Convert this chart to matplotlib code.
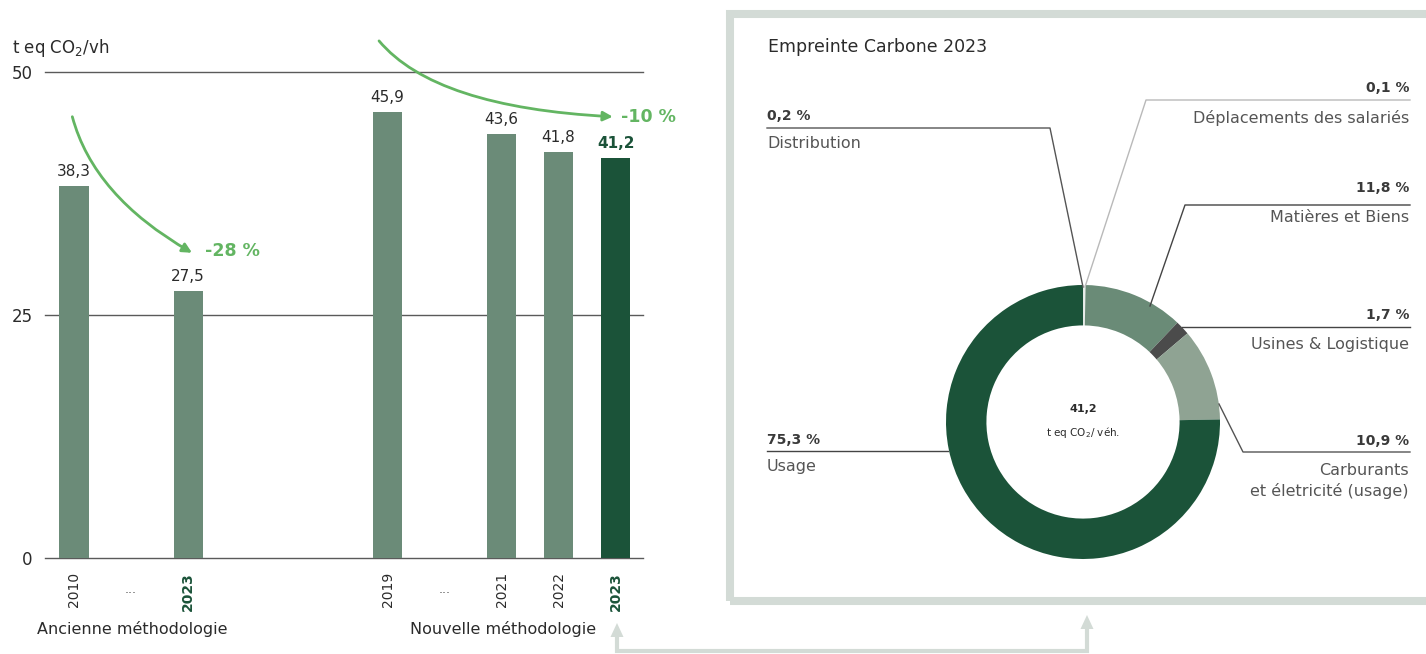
import matplotlib
matplotlib.use("Agg")
import matplotlib.pyplot as plt
from matplotlib.patches import Rectangle, Polygon

plt.rcParams['font.family'] = ['DejaVu Sans']

# --- Bar chart data: CO2 footprint per vehicle (t eq CO2) ---
years = ["2010", "2023", "2019", "2021", "2022", "2023"]
values = [38.3, 27.5, 45.9, 43.6, 41.8, 41.2]
value_labels = ["38,3", "27,5", "45,9", "43,6", "41,8", "41,2"]
highlight = [False, True, False, False, False, True]
group_labels = ["Ancienne méthodologie", "Nouvelle méthodologie"]
change_labels = ["-28 %", "-10 %"]
y_ticks = [0, 25, 50]

# --- Donut data: breakdown of the 2023 footprint ---
segments = ["Distribution", "Déplacements des salariés", "Matières et Biens",
            "Usines & Logistique", "Carburants\net életricité (usage)", "Usage"]
shares = [0.2, 0.1, 11.8, 1.7, 10.9, 75.3]
share_labels = ["0,2 %", "0,1 %", "11,8 %", "1,7 %", "10,9 %", "75,3 %"]
total_label = "41,2"

# layout
bar_x = [0, 2, 5.5, 7.5, 8.5, 9.5]
gap_x = [1, 6.5]
W, H = 1426, 654

C_BAR = "#6b8b78"
C_DARK = "#1b5339"
C_ARROW = "#63b562"
C_FRAME = "#d3dbd6"
C_GRID = "#5a5a5a"
C_TEXT = "#2b2b2b"
C_SOFT = "#555555"
seg_colors = ["#e4eae6", "#e4eae6", "#6a8b77", "#4b4b4b", "#8fa393", "#1b5339"]

fig = plt.figure(figsize=(W / 100, H / 100), dpi=100)

# full-figure overlay in pixel units (y measured from the bottom)
ov = fig.add_axes([0, 0, 1, 1])
ov.set_xlim(0, W)
ov.set_ylim(0, H)
ov.set_aspect("equal")
ov.axis("off")


def py(y):
    return H - y


# frame around the donut panel
ov.add_patch(Rectangle((730, py(601)), 800, 587, fill=False,
                       edgecolor=C_FRAME, lw=5.8))

# connector between the 2023 bar and the panel
ov.plot([617, 617, 1087, 1087], [py(634), py(651), py(651), py(628)],
        color=C_FRAME, lw=3, solid_joinstyle="miter", solid_capstyle="butt")
for xt, yt in [(617, 623), (1087, 615)]:
    ov.add_patch(Polygon([(xt, py(yt)), (xt - 6.5, py(yt + 14)), (xt + 6.5, py(yt + 14))],
                         closed=True, color=C_FRAME, lw=0))

# donut
cx, cy, r = 1083, py(422), 137
ov.pie(shares, colors=seg_colors, startangle=90, counterclock=False,
       radius=r, center=(cx, cy), wedgeprops=dict(width=r * 0.295, lw=0),
       frame=True)
ov.set_xlim(0, W)
ov.set_ylim(0, H)
ov.axis("off")

ov.text(cx, py(409), total_label, ha="center", va="center",
        fontsize=8, fontweight="bold", color=C_TEXT)
ov.text(cx, py(433), "t eq CO$_2$/ véh.", ha="center", va="center",
        fontsize=7.5, color=C_TEXT)

ov.text(768, py(47), "Empreinte Carbone 2023", ha="left", va="center",
        fontsize=12.5, color=C_TEXT)

# leader lines
leaders = [
    ([767, 1050, 1083], [128, 128, 287], C_SOFT),
    ([1410, 1146, 1085], [100, 100, 287], "#b9b9b9"),
    ([1410, 1185, 1150], [205, 205, 306], "#444444"),
    ([1410, 1182], [327, 327], "#444444"),
    ([1410, 1243, 1219], [452, 452, 404], C_SOFT),
    ([767, 948], [451, 451], "#444444"),
]
for xs, ys, c in leaders:
    ov.plot(xs, [py(v) for v in ys], color=c, lw=1)

# segment labels: (x, y_share, y_name, align)
label_pos = [
    (767, 116, 143, "left"),
    (1409, 88, 118, "right"),
    (1409, 188, 218, "right"),
    (1409, 315, 345, "right"),
    (1409, 441, 481, "right"),
    (767, 440, 466, "left"),
]
for (x, ys, yn, ha), sl, name in zip(label_pos, share_labels, segments):
    ov.text(x, py(ys), sl, ha=ha, va="center", fontsize=10,
            fontweight="bold", color="#3a3a3a")
    ov.text(x, py(yn), name, ha=ha, va="center", fontsize=11.5,
            color=C_SOFT, linespacing=1.35)

# --- Bar chart ---
ax = fig.add_axes([45 / W, (H - 558) / H, (643 - 45) / W, (558 - 72) / H])
ax.patch.set_alpha(0)
ax.set_xlim(-0.509, 9.98)
ax.set_ylim(0, 50)

colors = [C_DARK if (h and i == len(values) - 1) else C_BAR
          for i, h in enumerate(highlight)]
ax.bar(bar_x, values, width=0.51, color=colors, zorder=2)

for s in ax.spines.values():
    s.set_visible(False)
ax.set_yticks(y_ticks)
ax.set_yticklabels([str(t) for t in y_ticks], fontsize=12, color=C_TEXT)
ax.tick_params(axis="y", length=0, pad=9)
for t in y_ticks:
    ax.axhline(t, color=C_GRID, lw=1, zorder=1, clip_on=False)

ax.set_xticks(bar_x)
ax.set_xticklabels(years, rotation=90, fontsize=10, color=C_TEXT)
ax.tick_params(axis="x", length=0, pad=10)
for lab, h in zip(ax.get_xticklabels(), highlight):
    if h:
        lab.set_color(C_DARK)
        lab.set_fontweight("bold")

for gx in gap_x:
    ax.annotate("...", xy=(gx, 0), xytext=(0, -23), textcoords="offset points",
                ha="center", va="center", fontsize=9, color="#555555")

for x, v, lab, c in zip(bar_x, values, value_labels, colors):
    bold = c == C_DARK
    ax.annotate(lab, xy=(x, v), xytext=(0, 5), textcoords="offset points",
                ha="center", va="bottom", fontsize=11,
                fontweight="bold" if bold else "normal",
                color=C_DARK if bold else C_TEXT)

ax.text(-1.09, 52.5, "t eq CO$_2$/vh", ha="left", va="center", fontsize=12,
        color=C_TEXT, clip_on=False)

ax.annotate(group_labels[0], xy=(-0.65, 0), xytext=(0, -51),
            textcoords="offset points", ha="left", va="center",
            fontsize=11.5, color=C_TEXT, annotation_clip=False)
ax.annotate(group_labels[1], xy=(9.16, 0), xytext=(0, -51),
            textcoords="offset points", ha="right", va="center",
            fontsize=11.5, color=C_TEXT, annotation_clip=False)

# trend arrows
arrows = [((-0.03, 45.4), (2.07, 31.4), (2.3, 31.6), change_labels[0], -75, -30),
          ((5.35, 53.2), (9.45, 45.4), (9.6, 45.4), change_labels[1], -50, -3)]
for start, end, tpos, txt, a_in, a_out in arrows:
    ax.annotate("", xy=end, xytext=start, annotation_clip=False,
                arrowprops=dict(arrowstyle="-|>", color=C_ARROW, lw=2,
                                mutation_scale=14, shrinkA=0, shrinkB=0,
                                connectionstyle=f"angle3,angleA={a_in},angleB={a_out}"))
    ax.text(tpos[0], tpos[1], txt, ha="left", va="center", fontsize=12.5,
            fontweight="bold", color=C_ARROW, clip_on=False)

fig.savefig("out.png", dpi=100)
